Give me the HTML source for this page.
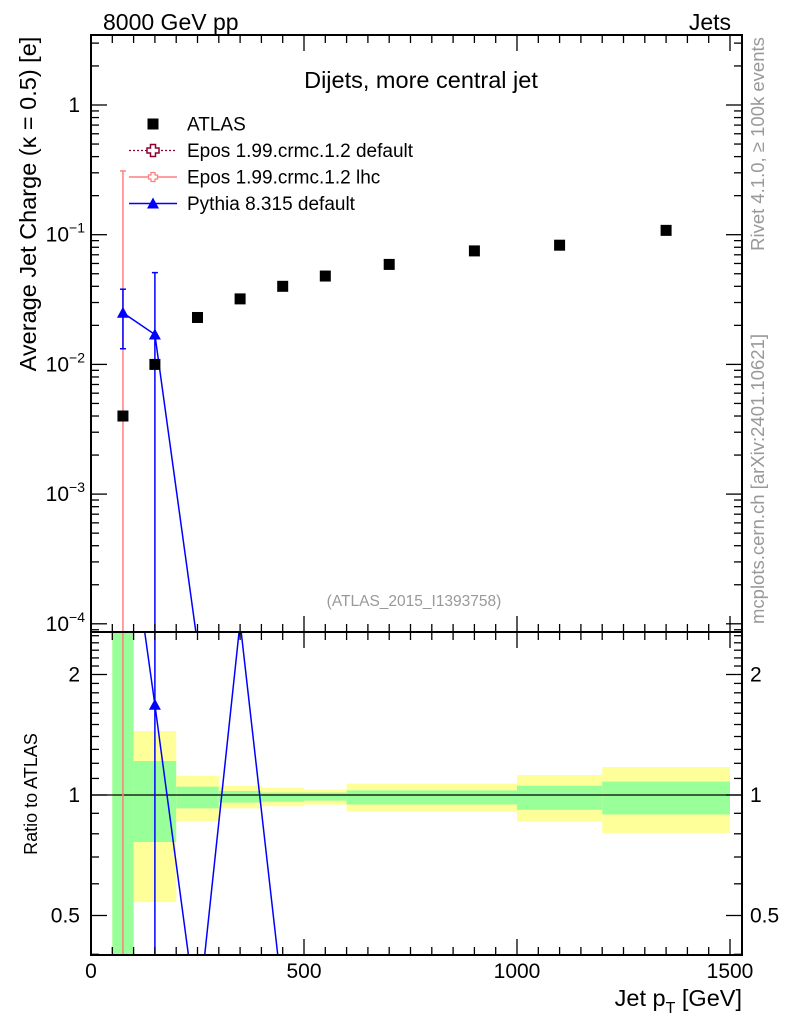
<!DOCTYPE html>
<html><head><meta charset="utf-8">
<style>
html,body{margin:0;padding:0;background:#fff;}
svg{display:block;font-family:"Liberation Sans",sans-serif;}
</style></head>
<body>
<svg id="chart" width="786" height="1024" viewBox="0 0 786 1024" xmlns="http://www.w3.org/2000/svg">
<defs>
<clipPath id="clipMain"><rect x="91" y="35" width="651" height="597"/></clipPath>
<clipPath id="clipRatio"><rect x="91" y="632" width="651" height="323"/></clipPath>
</defs>
<g id="ratioBands" clip-path="url(#clipRatio)"></g>
<g id="ratioLines" clip-path="url(#clipRatio)"></g>
<g id="mainMarks" clip-path="url(#clipMain)"></g>
<g id="axes"></g>
<text x="103" y="30" font-size="23">8000 GeV pp</text>
<text x="731" y="30" font-size="23" text-anchor="end">Jets</text>
<text x="421" y="88" font-size="23.5" text-anchor="middle">Dijets, more central jet</text>
<text x="414" y="606" font-size="15.5" fill="#999" text-anchor="middle">(ATLAS_2015_I1393758)</text>
<text transform="translate(36,204) rotate(-90)" font-size="23.5" text-anchor="middle">Average Jet Charge (κ = 0.5) [e]</text>
<text transform="translate(37,794) rotate(-90)" font-size="18" text-anchor="middle">Ratio to ATLAS</text>
<text transform="translate(764,144) rotate(-90)" font-size="18.5" fill="#999" text-anchor="middle">Rivet 4.1.0, ≥ 100k events</text>
<text transform="translate(764,479) rotate(-90)" font-size="18.5" fill="#999" text-anchor="middle">mcplots.cern.ch [arXiv:2401.10621]</text>
<text x="742" y="1006" font-size="23.5" text-anchor="end">Jet p<tspan font-size="16" dy="7">T</tspan><tspan dy="-7"> [GeV]</tspan></text>
<g id="legend"></g>
</svg>
<script>
const xVals = [75,150,250,350,450,550,700,900,1100,1350];
const atlasVals = [0.004,0.010,0.023,0.032,0.040,0.048,0.059,0.075,0.083,0.108];
const pythiaX = [75,150,250];
const pythiaVals = [0.025,0.017,0.00007];
const pythiaErrLo = [0.0132,0.00001,0.00001];
const pythiaErrHi = [0.038,0.051,0.00007];
const pythiaRatioX = [75,150,250,350,450];
const pythiaRatio = [6.25,1.68,0.27,2.7,0.31];
const eposLhcX = [75];
const eposLhcErrHi = [0.31];
const binEdges = [50,100,200,300,400,500,600,1000,1200,1500];
const statHi = [3,1.216,1.049,1.023,1.014,1.014,1.027,1.055,1.08];
const statLo = [0.3,0.763,0.926,0.957,0.962,0.968,0.947,0.918,0.894];
const totHi = [3,1.445,1.117,1.055,1.043,1.031,1.068,1.122,1.175];
const totLo = [0.3,0.54,0.861,0.926,0.937,0.946,0.909,0.858,0.804];
const xTicks = [0,500,1000,1500];
const yTickExp = [0,-1,-2,-3,-4];
const ratioTicks = [0.5,1,2];

const NS="http://www.w3.org/2000/svg";
const X0=91,X1=742,MT=35,MB=632,RB=955;
function xs(v){return 91+v*0.426;}
function ys(v){return 105-Math.log10(v)*129.7;}
function yr(v){return 795-Math.log2(v)*120.5;}
function mk(parent,tag,attrs){const e=document.createElementNS(NS,tag);for(const k in attrs)e.setAttribute(k,attrs[k]);parent.appendChild(e);return e;}
const bands=document.getElementById('ratioBands'),rl=document.getElementById('ratioLines'),mm=document.getElementById('mainMarks'),ax=document.getElementById('axes'),lg=document.getElementById('legend');

for(let i=0;i<binEdges.length-1;i++){
  const xa=xs(binEdges[i]),xb=xs(binEdges[i+1]);
  let r=mk(bands,'rect',{x:xa,y:yr(totHi[i]),width:xb-xa,height:yr(totLo[i])-yr(totHi[i]),fill:'#ffff99'});
  
  
  r=mk(bands,'rect',{x:xa,y:yr(statHi[i]),width:xb-xa,height:yr(statLo[i])-yr(statHi[i]),fill:'#99ff99'});
  
  
}
let l=mk(rl,'line',{x1:X0,x2:X1,y1:yr(1),y2:yr(1),stroke:'#000','stroke-width':1.3});


eposLhcX.forEach(v=>{const e=mk(rl,'line',{x1:xs(v),x2:xs(v),y1:MB,y2:RB,stroke:'#ff7f7f','stroke-width':1.5});
  
  });
const vl=mk(rl,'line',{x1:xs(150),x2:xs(150),y1:MB,y2:RB,stroke:'#0000ff','stroke-width':1.5});


let pr=mk(rl,'polyline',{points:pythiaRatioX.map((v,i)=>xs(v)+','+yr(pythiaRatio[i])).join(' '),fill:'none',stroke:'#0000ff','stroke-width':1.5});


pythiaRatioX.forEach((v,i)=>{const x=xs(v),y=yr(pythiaRatio[i]);
  const t=mk(rl,'polygon',{points:`${x},${y-6} ${x-6},${y+5} ${x+6},${y+5}`,fill:'#0000ff'});
  
  });

eposLhcX.forEach((v,i)=>{const e=mk(mm,'line',{x1:xs(v),x2:xs(v),y1:ys(eposLhcErrHi[i]),y2:MB+5,stroke:'#ff7f7f','stroke-width':1.5});
  
  
  const c=mk(mm,'line',{x1:xs(v)-3,x2:xs(v)+3,y1:ys(eposLhcErrHi[i]),y2:ys(eposLhcErrHi[i]),stroke:'#ff7f7f','stroke-width':1.5});
  
  });
pythiaX.forEach((v,i)=>{const x=xs(v);
  const e=mk(mm,'line',{x1:x,x2:x,y1:ys(pythiaErrHi[i]),y2:ys(pythiaErrLo[i]),stroke:'#0000ff','stroke-width':1.5});
  
  
  [pythiaErrHi[i],pythiaErrLo[i]].forEach(q=>{const c=mk(mm,'line',{x1:x-3,x2:x+3,y1:ys(q),y2:ys(q),stroke:'#0000ff','stroke-width':1.5});
    
    });});
let pl=mk(mm,'polyline',{points:pythiaX.map((v,i)=>xs(v)+','+ys(pythiaVals[i])).join(' '),fill:'none',stroke:'#0000ff','stroke-width':1.5});


pythiaX.forEach((v,i)=>{const x=xs(v),y=ys(pythiaVals[i]);
  const t=mk(mm,'polygon',{points:`${x},${y-6} ${x-6},${y+5} ${x+6},${y+5}`,fill:'#0000ff'});
  
  });
xVals.forEach((v,i)=>{const r=mk(mm,'rect',{x:xs(v)-5.5,y:ys(atlasVals[i])-5.5,width:11,height:11,fill:'#000'});
  
  });

[[MT,MB],[MB,RB]].forEach(([a,b])=>{const f=mk(ax,'rect',{x:X0,y:a,width:X1-X0,height:b-a,fill:'none',stroke:'#000','stroke-width':2});
  
  });
function tick(x1,y1,x2,y2){mk(ax,'line',{x1,y1,x2,y2,stroke:'#000','stroke-width':1.3});}
for(let v=0;v<=1500;v+=50){const x=xs(v),L=(v%500===0)?16:8;
  [[MT,1],[MB,-1],[MB,1],[RB,-1]].forEach(([y,d])=>tick(x,y,x,y+d*L));}
xTicks.forEach(v=>{const t=mk(ax,'text',{x:xs(v),y:978,'font-size':21,'text-anchor':'middle'});t.textContent=v;
  
  });
for(let e=-5;e<=0;e++){for(let m=1;m<10;m++){const v=m*Math.pow(10,e),y=ys(v);if(y<MT||y>MB)continue;const L=m===1?16:8;tick(X0,y,X0+L,y);tick(X1,y,X1-L,y);}}
yTickExp.forEach(e=>{const y=ys(Math.pow(10,e));
  const t=mk(ax,'text',{x:e===0?80:85,y:y+7,'font-size':21,'text-anchor':'end'});
  if(e===0)t.textContent='1';else{t.textContent='10';const s=mk(t,'tspan',{'font-size':14,dy:-9});s.textContent=String(e).replace('-','−');}
  
  });
for(let v=0.4;v<2.56;v+=0.1){const y=yr(v),L=(Math.abs(v-0.5)<1e-6||Math.abs(v-1)<1e-6||Math.abs(v-2)<1e-6)?16:8;tick(X0,y,X0+L,y);tick(X1,y,X1-L,y);}
ratioTicks.forEach(v=>{const y=yr(v);
  let t=mk(ax,'text',{x:80,y:y+7,'font-size':21,'text-anchor':'end'});t.textContent=v;
  
  
  t=mk(ax,'text',{x:750,y:y+7,'font-size':21});t.textContent=v;
  
  });

const items=[['ATLAS','atlas'],['Epos 1.99.crmc.1.2 default','epos-def'],['Epos 1.99.crmc.1.2 lhc','epos-lhc'],['Pythia 8.315 default','pythia']];
items.forEach(([lab,k],i)=>{const y=124+i*26.5,x=153;
  const g=mk(lg,'g',{});
  
  
  if(k==='atlas')mk(g,'rect',{x:x-5.5,y:y-5.5,width:11,height:11,fill:'#000'});
  if(k==='epos-def'){mk(g,'line',{x1:129,x2:177,y1:y,y2:y,stroke:'#8b0030','stroke-width':1.3,'stroke-dasharray':'2,2'});
    mk(g,'path',{d:`M${x-2.5},${y-6}h5v3.5h3.5v5h-3.5v3.5h-5v-3.5h-3.5v-5h3.5z`,fill:'#fff',stroke:'#8b0030','stroke-width':1.5});}
  if(k==='epos-lhc'){mk(g,'line',{x1:129,x2:177,y1:y,y2:y,stroke:'#ff7f7f','stroke-width':1.5});
    mk(g,'path',{d:`M${x-2},${y-4.5}h4v2.5h2.5v4h-2.5v2.5h-4v-2.5h-2.5v-4h2.5z`,fill:'#fff',stroke:'#ff7f7f','stroke-width':1.3});}
  if(k==='pythia'){mk(g,'line',{x1:129,x2:177,y1:y,y2:y,stroke:'#0000ff','stroke-width':1.5});
    mk(g,'polygon',{points:`${x},${y-6} ${x-6},${y+5} ${x+6},${y+5}`,fill:'#0000ff'});}
  const t=mk(g,'text',{x:187,y:y+6.5,'font-size':19});t.textContent=lab;});
</script>
</body></html>
